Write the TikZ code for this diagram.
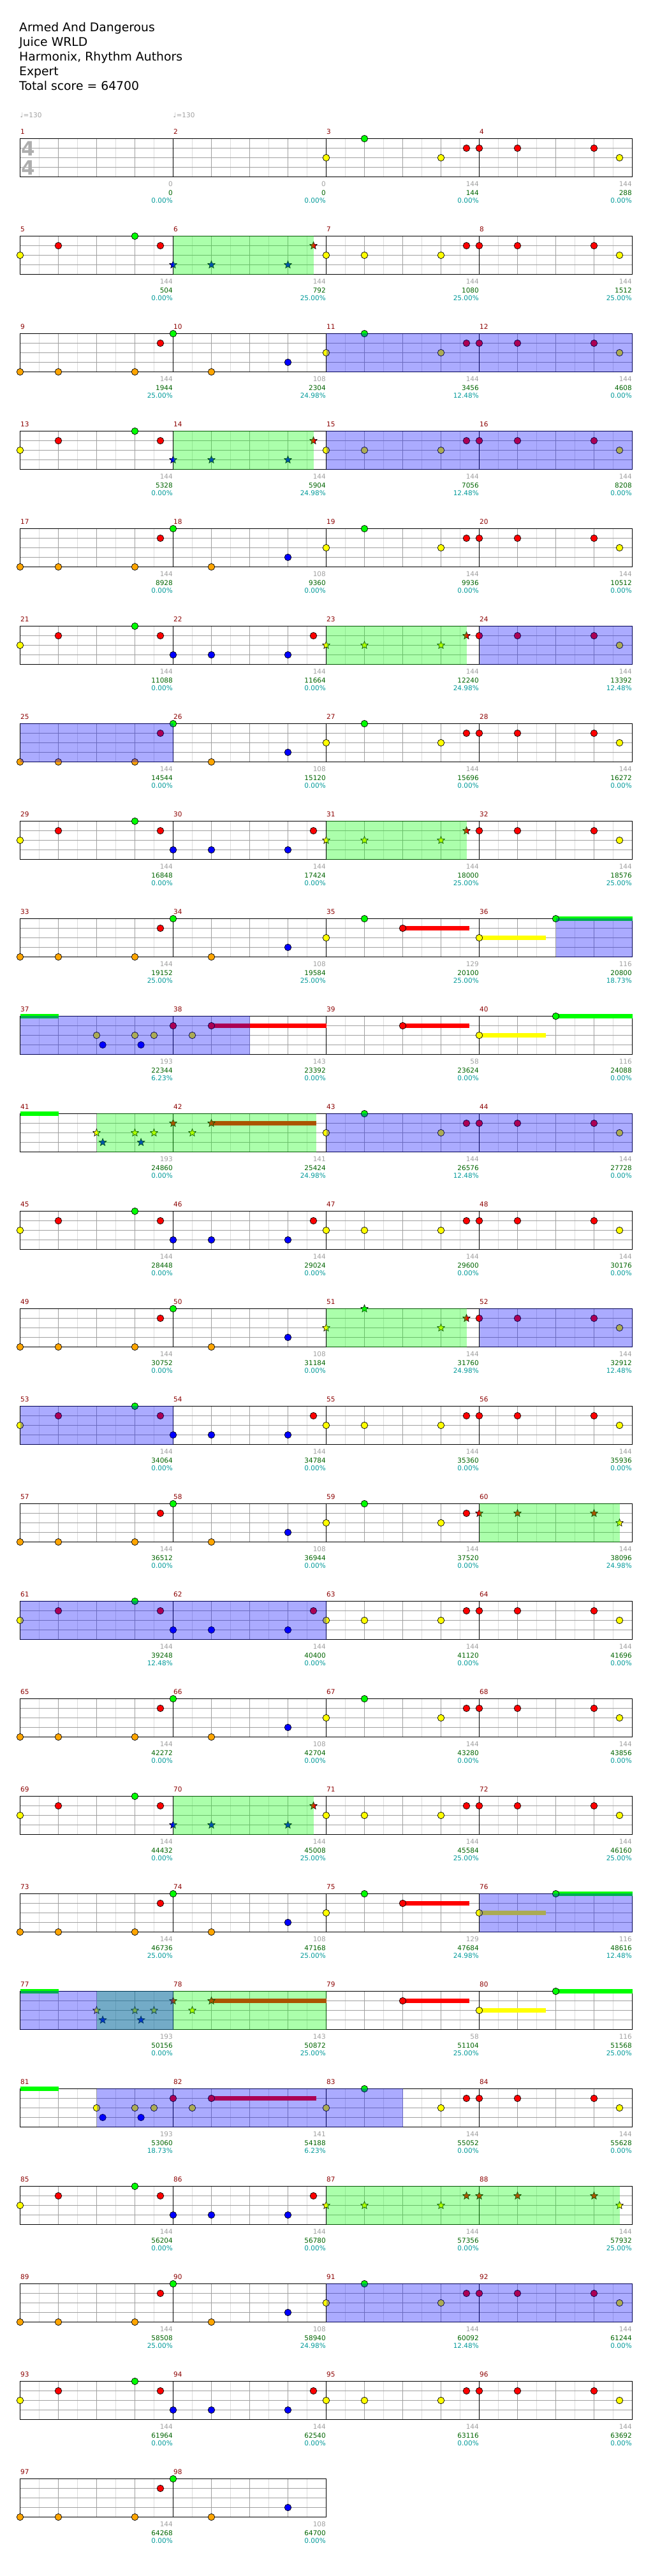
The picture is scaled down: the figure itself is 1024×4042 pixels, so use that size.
\documentclass[tikz,border=0pt]{standalone}
\usepackage{fontspec}
\setmainfont{DejaVu Sans}
\usepackage{xcolor}
\definecolor{lane0}{HTML}{00FF00}
\definecolor{lane1}{HTML}{FF0000}
\definecolor{lane2}{HTML}{FFFF00}
\definecolor{lane3}{HTML}{0000FF}
\definecolor{lane4}{HTML}{FFA500}
\definecolor{gridLight}{HTML}{DCDCDC}
\definecolor{gridMid}{HTML}{A0A0A0}
\definecolor{barNum}{HTML}{8B0000}
\definecolor{scoreGrey}{HTML}{A0A0A0}
\definecolor{scoreGreen}{HTML}{006400}
\definecolor{scoreTeal}{HTML}{009999}
\usetikzlibrary{shapes.geometric}
\tikzset{
  halfbeat/.style={draw=gridLight, line width=1pt},
  beatline/.style={draw=gridMid, line width=1pt},
  laneline/.style={draw=gridMid, line width=1pt},
  barline/.style={draw=black, line width=1pt},
  staffedge/.style={draw=black, line width=1pt},
  gem/.style={circle, draw=black, line width=0.7pt, inner sep=0pt, minimum size=10.5pt},
  stargem/.style={star, star points=5, star point ratio=2.3, draw=black, line width=0.6pt, inner sep=0pt, minimum size=12.5pt},
  sustbar/.style={line width=7pt},
  spzone/.style={fill=lane0, fill opacity=0.33},
  odzone/.style={fill=lane3, fill opacity=0.33},
  titleline/.style={anchor=base west, inner sep=0pt, font=\fontsize{18.8}{23}\selectfont},
  tempo/.style={anchor=base west, inner sep=0pt, text=scoreGrey, font=\fontsize{10.5}{12}\selectfont},
  timesig/.style={inner sep=0pt, text=gridMid!85, font=\fontsize{31}{31}\selectfont\bfseries},
  barnum/.style={anchor=base west, inner sep=0pt, text=barNum, font=\fontsize{10.5}{12}\selectfont},
  ptsnum/.style={anchor=base east, inner sep=0pt, text=scoreGrey, font=\fontsize{10.5}{12}\selectfont},
  totnum/.style={ptsnum, text=scoreGreen},
  pctnum/.style={ptsnum, text=scoreTeal}
}
\newcounter{gemno}
\newcommand{\gem}[3]{\stepcounter{gemno}\node[gem, fill=lane#3] (gem\arabic{gemno}) at ([shift={(#2*60,#3*15)}]m#1) {};}
\newcommand{\sgem}[3]{\stepcounter{gemno}\node[stargem, fill=lane#3] (gem\arabic{gemno}) at ([shift={(#2*60,#3*15)}]m#1) {};}
\newcommand{\hold}[4]{\draw[sustbar, draw=lane#3] ([shift={(#2*60,#3*15)}]m#1) -- ++(#4*60,0);}
\newcommand{\zone}[4]{\fill[#1] ([shift={(#3*60,-0.5)}]m#2) rectangle ([shift={(#4*60,60.5)}]m#2);}
\newcommand{\leadbar}[3]{\foreach \b/\l in {0/2,1/#2,3/2,3.6667/1}{#3{#1}{\b}{\l}}}
\newcommand{\answerbar}[2]{\foreach \b/\l in {0/1,1/1,3/1,3.6667/2}{#2{#1}{\b}{\l}}}
\newcommand{\callbar}[1]{\foreach \b/\l in {0/2,1/1,3/0,3.6667/1}{\gem{#1}{\b}{\l}}}
\newcommand{\bluebar}[2]{\foreach \b/\l in {0/3,1/3,3/3,3.6667/1}{#2{#1}{\b}{\l}}}
\newcommand{\lowbar}[1]{\foreach \b/\l in {0/4,1/4,3/4,3.6667/1}{\gem{#1}{\b}{\l}}}
\newcommand{\turnbar}[1]{\foreach \b/\l in {0/0,1/4,3/3}{\gem{#1}{\b}{\l}}}
\newcommand{\riseA}[1]{\gem{#1}{0}{2}\gem{#1}{1}{0}\hold{#1}{2}{1}{1.74}\gem{#1}{2}{1}}
\newcommand{\riseB}[1]{\hold{#1}{0}{2}{1.74}\gem{#1}{0}{2}\hold{#1}{2}{0}{2}\gem{#1}{2}{0}}
\newcommand{\riseC}[1]{\hold{#1}{2}{1}{1.74}\gem{#1}{2}{1}}
\newcommand{\runbar}[2]{\hold{#1}{0}{0}{1}\foreach \b/\l in {2/2,2.16/3,3/2,3.16/3,3.5/2}{#2{#1}{\b}{\l}}}
\newcommand{\slidebar}[3]{\hold{#1}{1}{1}{#3}\foreach \b/\l in {0/1,0.5/2,1/1}{#2{#1}{\b}{\l}}}
\begin{document}
\begin{tikzpicture}[x=1pt,y=-1pt]
  \useasboundingbox (0,0) rectangle (1024,4042);
  \foreach \t [count=\i] in {Armed And Dangerous, Juice WRLD, {Harmonix, Rhythm Authors}, Expert, Total score = 64700}
    \node[titleline] (title\i) at (30,{26.3+23*\i}) {\t};
  \foreach \m in {1,...,98}{
    \pgfmathtruncatemacro{\rowno}{(\m-1)/4}
    \pgfmathtruncatemacro{\colno}{\m-1-4*\rowno}
    \coordinate (m\m) at ({31.5+240*\colno},{217.5+153*\rowno});
  }
  \foreach \r in {0,...,24}{
    \pgfmathtruncatemacro{\bars}{\r<24 ? 4 : 2}
    \pgfmathsetmacro{\ytop}{217.5+153*\r}
    \pgfmathsetmacro{\xend}{31.5+240*\bars}
    \pgfmathtruncatemacro{\nhalf}{8*\bars-1}
    \pgfmathtruncatemacro{\nbeat}{4*\bars-1}
    \pgfmathtruncatemacro{\nbar}{\bars-1}
    \foreach \i in {1,...,\nhalf}{\draw[halfbeat] ({31.5+30*\i},\ytop) -- ++(0,60);}
    \foreach \i in {1,...,\nbeat}{\draw[beatline] ({31.5+60*\i},\ytop) -- ++(0,60);}
    \foreach \j in {1,2,3}{\draw[laneline] (31.5,{\ytop+15*\j}) -- (\xend,{\ytop+15*\j});}
    \foreach \i in {1,...,\nbar}{\draw[barline] ({31.5+240*\i},\ytop) -- ++(0,60);}
    \draw[staffedge] (31.5,\ytop) rectangle (\xend,{\ytop+60});
  }
  \node[timesig] (sigtop) at ([shift={(12.7,16)}]m1) {4};
  \node[timesig] (sigbot) at ([shift={(12.7,45.5)}]m1) {4};
  \node[tempo] (tempo1) at ([shift={(0,-33.2)}]m1) {♩=130};
  \node[tempo] (tempo2) at ([shift={(0,-33.2)}]m2) {♩=130};
  \leadbar{3}{0}{\gem}\answerbar{4}{\gem}
  \callbar{5}\bluebar{6}{\sgem}\leadbar{7}{2}{\gem}\answerbar{8}{\gem}
  \lowbar{9}\turnbar{10}\leadbar{11}{0}{\gem}\answerbar{12}{\gem}
  \callbar{13}\bluebar{14}{\sgem}\leadbar{15}{2}{\gem}\answerbar{16}{\gem}
  \lowbar{17}\turnbar{18}\leadbar{19}{0}{\gem}\answerbar{20}{\gem}
  \callbar{21}\bluebar{22}{\gem}\leadbar{23}{2}{\sgem}\answerbar{24}{\gem}
  \lowbar{25}\turnbar{26}\leadbar{27}{0}{\gem}\answerbar{28}{\gem}
  \callbar{29}\bluebar{30}{\gem}\leadbar{31}{2}{\sgem}\answerbar{32}{\gem}
  \lowbar{33}\turnbar{34}\riseA{35}\riseB{36}
  \runbar{37}{\gem}\slidebar{38}{\gem}{3}\riseC{39}\riseB{40}
  \runbar{41}{\sgem}\slidebar{42}{\sgem}{2.74}\leadbar{43}{0}{\gem}\answerbar{44}{\gem}
  \callbar{45}\bluebar{46}{\gem}\leadbar{47}{2}{\gem}\answerbar{48}{\gem}
  \lowbar{49}\turnbar{50}\leadbar{51}{0}{\sgem}\answerbar{52}{\gem}
  \callbar{53}\bluebar{54}{\gem}\leadbar{55}{2}{\gem}\answerbar{56}{\gem}
  \lowbar{57}\turnbar{58}\leadbar{59}{0}{\gem}\answerbar{60}{\sgem}
  \callbar{61}\bluebar{62}{\gem}\leadbar{63}{2}{\gem}\answerbar{64}{\gem}
  \lowbar{65}\turnbar{66}\leadbar{67}{0}{\gem}\answerbar{68}{\gem}
  \callbar{69}\bluebar{70}{\sgem}\leadbar{71}{2}{\gem}\answerbar{72}{\gem}
  \lowbar{73}\turnbar{74}\riseA{75}\riseB{76}
  \runbar{77}{\sgem}\slidebar{78}{\sgem}{3}\riseC{79}\riseB{80}
  \runbar{81}{\gem}\slidebar{82}{\gem}{2.74}\leadbar{83}{0}{\gem}\answerbar{84}{\gem}
  \callbar{85}\bluebar{86}{\gem}\leadbar{87}{2}{\sgem}\answerbar{88}{\sgem}
  \lowbar{89}\turnbar{90}\leadbar{91}{0}{\gem}\answerbar{92}{\gem}
  \callbar{93}\bluebar{94}{\gem}\leadbar{95}{2}{\gem}\answerbar{96}{\gem}
  \lowbar{97}\turnbar{98}
  \foreach \m/\a/\z in {6/0/3.6667,14/0/3.6667,23/0/3.6667,31/0/3.6667,41/2/7.74,51/0/3.6667,60/0/3.6667,70/0/3.6667,77/2/8,87/0/7.6667}
    {\zone{spzone}{\m}{\a}{\z}}
  \foreach \m/\a/\z in {11/0/8,15/0/8,24/0/4,25/0/4,36/2/4,37/0/6,43/0/8,52/0/4,53/0/4,61/0/8,76/0/4,77/0/4,81/2/10,91/0/8}
    {\zone{odzone}{\m}{\a}{\z}}
  \foreach \m in {1,...,98}{\node[barnum] (num\m) at ([shift={(0.5,-7)}]m\m) {\m};}
  \foreach \m/\pts/\tot/\pct in {
    1/0/0/0.00, 2/0/0/0.00, 3/144/144/0.00, 4/144/288/0.00,
    5/144/504/0.00, 6/144/792/25.00, 7/144/1080/25.00, 8/144/1512/25.00,
    9/144/1944/25.00, 10/108/2304/24.98, 11/144/3456/12.48, 12/144/4608/0.00,
    13/144/5328/0.00, 14/144/5904/24.98, 15/144/7056/12.48, 16/144/8208/0.00,
    17/144/8928/0.00, 18/108/9360/0.00, 19/144/9936/0.00, 20/144/10512/0.00,
    21/144/11088/0.00, 22/144/11664/0.00, 23/144/12240/24.98, 24/144/13392/12.48,
    25/144/14544/0.00, 26/108/15120/0.00, 27/144/15696/0.00, 28/144/16272/0.00,
    29/144/16848/0.00, 30/144/17424/0.00, 31/144/18000/25.00, 32/144/18576/25.00,
    33/144/19152/25.00, 34/108/19584/25.00, 35/129/20100/25.00, 36/116/20800/18.73,
    37/193/22344/6.23, 38/143/23392/0.00, 39/58/23624/0.00, 40/116/24088/0.00,
    41/193/24860/0.00, 42/141/25424/24.98, 43/144/26576/12.48, 44/144/27728/0.00,
    45/144/28448/0.00, 46/144/29024/0.00, 47/144/29600/0.00, 48/144/30176/0.00,
    49/144/30752/0.00, 50/108/31184/0.00, 51/144/31760/24.98, 52/144/32912/12.48,
    53/144/34064/0.00, 54/144/34784/0.00, 55/144/35360/0.00, 56/144/35936/0.00,
    57/144/36512/0.00, 58/108/36944/0.00, 59/144/37520/0.00, 60/144/38096/24.98,
    61/144/39248/12.48, 62/144/40400/0.00, 63/144/41120/0.00, 64/144/41696/0.00,
    65/144/42272/0.00, 66/108/42704/0.00, 67/144/43280/0.00, 68/144/43856/0.00,
    69/144/44432/0.00, 70/144/45008/25.00, 71/144/45584/25.00, 72/144/46160/25.00,
    73/144/46736/25.00, 74/108/47168/25.00, 75/129/47684/24.98, 76/116/48616/12.48,
    77/193/50156/0.00, 78/143/50872/25.00, 79/58/51104/25.00, 80/116/51568/25.00,
    81/193/53060/18.73, 82/141/54188/6.23, 83/144/55052/0.00, 84/144/55628/0.00,
    85/144/56204/0.00, 86/144/56780/0.00, 87/144/57356/0.00, 88/144/57932/25.00,
    89/144/58508/25.00, 90/108/58940/24.98, 91/144/60092/12.48, 92/144/61244/0.00,
    93/144/61964/0.00, 94/144/62540/0.00, 95/144/63116/0.00, 96/144/63692/0.00,
    97/144/64268/0.00, 98/108/64700/0.00}{
    \node[ptsnum] (pts\m) at ([shift={(239.5,75.2)}]m\m) {\pts};
    \node[totnum] (tot\m) at ([shift={(239.5,88.5)}]m\m) {\tot};
    \node[pctnum] (pct\m) at ([shift={(239.5,101)}]m\m) {\pct\%};
  }
\end{tikzpicture}
\end{document}
